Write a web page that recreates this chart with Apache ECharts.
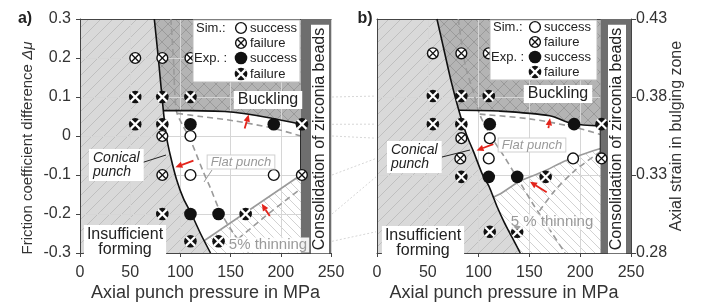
<!DOCTYPE html>
<html>
<head>
<meta charset="utf-8">
<script src="https://cdn.jsdelivr.net/npm/echarts@6/dist/echarts.min.js"></script>
<style>
html, body { margin: 0; padding: 0; background: #fff; }
#chart { width: 702px; height: 307px; }
</style>
</head>
<body>
<div id="chart"></div>
<script>
// ---------- data ----------
// panel a) : friction coefficient difference vs axial punch pressure
var simSuccessA = [[110, 0], [110, -0.1], [193, -0.1]];
var simFailureA = [[55, 0.2], [82, 0.2], [110, 0.2], [82, 0], [82, -0.1], [221, -0.1]];
var expSuccessA = [[110, 0.03], [193, 0.03], [110, -0.2], [138, -0.2]];
var expFailureA = [[55, 0.1], [82, 0.1], [110, 0.1], [55, 0.03], [82, 0.03], [221, 0.03],
                   [82, -0.2], [165, -0.2], [110, -0.27], [138, -0.27]];

var conicalA = [[74, 0.3], [78, 0.2], [83, 0.065], [86, 0], [90, -0.05], [96, -0.11],
                [103, -0.16], [111, -0.2], [120, -0.25], [130, -0.3]];
var buckleA = [[83, 0.065], [110, 0.065], [153, 0.061], [192, 0.045], [220, 0.03]];
var stripEdgeA = [[220, 0.03], [220, -0.1]];
var thinA = [[124, -0.268], [220, -0.1]];
var flatA = [[90.5, 0.3], [93, 0.2], [96, 0.065], [103, 0.024], [110, -0.01], [123, -0.093],
             [130, -0.134], [139, -0.19], [153, -0.25], [168, -0.3]];
var flatBuckleA = [[97, 0.058], [120, 0.05], [153, 0.039], [192, 0.02], [220, 0.0]];
var flatThinA = [[150, -0.28], [185, -0.205], [220, -0.135]];
var arrowsA = [[164, 0.019, 168, 0.055], [113, -0.063, 95, -0.08], [189, -0.205, 181, -0.174]];

// panel b) : axial strain in bulging zone vs axial punch pressure
var simSuccessB = [[111, 0.3536], [110, 0.3406], [193, 0.3406]];
var simFailureB = [[55, 0.408], [83, 0.408], [110, 0.408], [83, 0.3536], [82, 0.3406], [221, 0.3406]];
var expSuccessB = [[111, 0.3626], [194, 0.3626], [110, 0.3288], [138, 0.3288]];
var expFailureB = [[55, 0.3806], [83, 0.3806], [110, 0.3806], [55, 0.3626], [83, 0.3626], [221, 0.3626],
                   [83, 0.3288], [166, 0.3288], [111, 0.2936], [138, 0.2936]];

var conicalB = [[59, 0.43], [66, 0.41], [73, 0.39], [80.5, 0.3715], [88, 0.356], [95, 0.345],
                [104, 0.33], [110, 0.323], [114.5, 0.3158], [118, 0.31], [125, 0.3], [133, 0.29], [141, 0.28]];
var buckleB = [[80.5, 0.3715], [120, 0.371], [170, 0.368], [192, 0.363], [220, 0.3615]];
var stripEdgeB = [[220, 0.3615], [220, 0.3406]];
var thinB = [[114.5, 0.3158], [121, 0.3178], [140.7, 0.326], [163.7, 0.3322], [186.7, 0.3395], [220, 0.347]];
var flatB = [[80, 0.43], [87, 0.40], [95, 0.383], [101, 0.369], [112, 0.355], [125, 0.342],
             [140, 0.326], [152, 0.313], [162, 0.303], [172, 0.293], [185, 0.28]];
var flatBuckleB = [[101, 0.369], [150, 0.366], [192, 0.361], [220, 0.356]];
var flatThinB = [[160, 0.307], [175, 0.32], [195, 0.333], [220, 0.345]];
var arrowsB = [[168.7, 0.3601, 170.3, 0.3663], [114.5, 0.3498, 98, 0.3457], [167, 0.3189, 150.6, 0.3257]];

// matching rows of the two panels (friction difference -> axial strain)
var linkRows = [[0.1, 0.3806], [0.03, 0.3626], [0, 0.3536], [-0.1, 0.3406], [-0.2, 0.3288], [-0.27, 0.2936]];

// ---------- helpers ----------
var FONT = '"Liberation Sans", Arial, sans-serif';
var AXIS = '#444';

function hatch(bg, fg, size, dirs) {
  var c = document.createElement('canvas');
  c.width = size; c.height = size;
  var g = c.getContext('2d');
  g.fillStyle = bg; g.fillRect(0, 0, size, size);
  g.strokeStyle = fg; g.lineWidth = 1;
  g.beginPath();
  for (var k = -1; k <= 1; k++) {
    if (dirs.indexOf('/') >= 0) { g.moveTo(k * size, size); g.lineTo(k * size + size, 0); }
    if (dirs.indexOf('\\') >= 0) { g.moveTo(k * size, 0); g.lineTo(k * size + size, size); }
  }
  g.stroke();
  return { image: c, repeat: 'repeat' };
}

function axes(panel) {
  return panel === 'a' ? { xAxisIndex: 0, yAxisIndex: 0 } : { xAxisIndex: 1, yAxisIndex: 1 };
}

function area(panel, pts, fill, z) {
  return Object.assign({
    type: 'custom', silent: true, z: z || 1, clip: true, data: [pts[0]],
    renderItem: function (params, api) {
      return { type: 'polygon', shape: { points: pts.map(function (p) { return api.coord(p); }) },
               style: { fill: fill, stroke: null } };
    }
  }, axes(panel));
}

function curve(panel, pts, color, width, dashed, smooth) {
  return Object.assign({
    type: 'line', data: pts, symbol: 'none', silent: true, z: 6,
    smooth: smooth === undefined ? 0.3 : smooth,
    lineStyle: { color: color, width: width, type: dashed ? [6, 4] : 'solid' }
  }, axes(panel));
}

function markerGroup(kind, cx, cy, z) {
  var r = 6, ch = [];
  if (kind === 'simSuccess' || kind === 'simFailure') {
    ch.push({ type: 'circle', shape: { cx: cx, cy: cy, r: r - 0.6 }, style: { fill: '#fff', stroke: '#111', lineWidth: 1.4 } });
    if (kind === 'simFailure') {
      var k = 3.7;
      ch.push({ type: 'line', shape: { x1: cx - k, y1: cy - k, x2: cx + k, y2: cy + k }, style: { stroke: '#111', lineWidth: 1.3 } });
      ch.push({ type: 'line', shape: { x1: cx - k, y1: cy + k, x2: cx + k, y2: cy - k }, style: { stroke: '#111', lineWidth: 1.3 } });
    }
  } else {
    ch.push({ type: 'circle', shape: { cx: cx, cy: cy, r: r + 0.3 }, style: { fill: '#111' } });
    if (kind === 'expFailure') {
      var d = 4.6;
      ch.push({ type: 'line', shape: { x1: cx - d, y1: cy - d, x2: cx + d, y2: cy + d }, style: { stroke: '#fff', lineWidth: 2.2 } });
      ch.push({ type: 'line', shape: { x1: cx - d, y1: cy + d, x2: cx + d, y2: cy - d }, style: { stroke: '#fff', lineWidth: 2.2 } });
    }
  }
  if (z) ch.forEach(function (c) { c.z = z; });
  return { type: 'group', children: ch };
}

function markers(panel, pts, kind) {
  return Object.assign({
    type: 'custom', silent: true, z: 10, data: pts,
    renderItem: function (params, api) {
      var c = api.coord([api.value(0), api.value(1)]);
      return markerGroup(kind, c[0], c[1]);
    }
  }, axes(panel));
}

function arrows(panel, data) {
  return Object.assign({
    type: 'custom', silent: true, z: 9, data: data,
    renderItem: function (params, api) {
      var t = api.coord([api.value(0), api.value(1)]);
      var h = api.coord([api.value(2), api.value(3)]);
      var dx = h[0] - t[0], dy = h[1] - t[1], L = Math.sqrt(dx * dx + dy * dy);
      var ux = dx / L, uy = dy / L, hl = 7, hw = 3.2;
      var bx = h[0] - ux * hl, by = h[1] - uy * hl;
      return { type: 'group', children: [
        { type: 'line', shape: { x1: t[0], y1: t[1], x2: bx, y2: by }, style: { stroke: '#e3241b', lineWidth: 1.8 } },
        { type: 'polygon', shape: { points: [h, [bx - uy * hw, by + ux * hw], [bx + uy * hw, by - ux * hw]] },
          style: { fill: '#e3241b' } }
      ] };
    }
  }, axes(panel));
}

function strip(panel, y0, y1) {
  return area(panel, [[220, y0], [250, y0], [250, y1], [220, y1]], '#6e6e6e', 8);
}

// ---------- regions ----------
var grayHatch = hatch('#d9d9d9', '#bfbfbf', 12, '/');
var crossHatch = hatch('#b4b4b4', '#9a9a9a', 12, '/\\');
var thinHatch = hatch('#ffffff', '#d2d2d2', 9, '\\');

var leftA = [[0, 0.3]].concat(conicalA, [[0, -0.3]]);
var buckPolyA = [[74, 0.3], [220, 0.3]].concat(buckleA.slice().reverse(), [[78, 0.2]]);
var thinPolyA = thinA.concat([[220, -0.3], [130, -0.3]]);
var leftB = [[0, 0.43]].concat(conicalB, [[0, 0.28]]);
var buckPolyB = conicalB.slice(0, 4).concat(buckleB.slice(1), [[220, 0.43]]);
var thinPolyB = thinB.concat([[220, 0.28], [141, 0.28], [133, 0.29], [125, 0.3], [118, 0.31]]);

function xAxisCfg(grid) {
  return {
    gridIndex: grid, type: 'value', min: 0, max: 250, interval: 50, z: 3,
    axisLine: { show: true, onZero: false, lineStyle: { color: AXIS, width: 1 } },
    axisTick: { show: true, length: 4, lineStyle: { color: AXIS } },
    axisLabel: { fontSize: 16, color: '#333', fontFamily: FONT, margin: 12 },
    splitLine: { show: true, lineStyle: { color: '#d6d6d6', width: 1 } },
    name: 'Axial punch pressure in MPa', nameLocation: 'middle', nameGap: 31, nameMoveOverlap: false,
    nameTextStyle: { fontSize: 18, color: '#333', fontFamily: FONT, verticalAlign: 'top' }
  };
}
function frameX(grid) {
  return { gridIndex: grid, type: 'value', min: 0, max: 250, position: 'top', z: 3,
    axisLine: { show: true, onZero: false, lineStyle: { color: AXIS } },
    axisTick: { show: false }, axisLabel: { show: false }, splitLine: { show: false } };
}

var chart = echarts.init(document.getElementById('chart'));
chart.setOption({
  animation: false,
  grid: [
    { left: 80, top: 19, width: 251, height: 242 },
    { left: 377, top: 19, width: 254, height: 242 }
  ],
  xAxis: [xAxisCfg(0), xAxisCfg(1), frameX(0), frameX(1)],
  yAxis: [
    {
      gridIndex: 0, type: 'value', min: -0.3, max: 0.3, interval: 0.1, position: 'left', z: 3,
      axisLine: { show: true, onZero: false, lineStyle: { color: AXIS } },
      axisTick: { show: true, length: 4, lineStyle: { color: AXIS } },
      axisLabel: { fontSize: 16, color: '#333', fontFamily: FONT, margin: 9,
        formatter: function (v) { return Math.abs(v) < 1e-9 ? '0' : v.toFixed(1); } },
      splitLine: { show: true, lineStyle: { color: '#d6d6d6' } }
    },
    {
      gridIndex: 1, type: 'value', min: 0.28, max: 0.43, interval: 0.05, position: 'right', z: 3,
      axisLine: { show: true, onZero: false, lineStyle: { color: AXIS } },
      axisTick: { show: true, length: 5, lineStyle: { color: AXIS } },
      axisLabel: { fontSize: 16, color: '#333', fontFamily: FONT, margin: 5,
        formatter: function (v) { return v.toFixed(2); } },
      splitLine: { show: true, lineStyle: { color: '#d6d6d6' } },
      name: 'Axial strain in bulging zone', nameLocation: 'middle', nameGap: 38, nameMoveOverlap: false,
      nameTextStyle: { fontSize: 16, color: '#333', fontFamily: FONT }
    },
    {
      gridIndex: 1, type: 'value', min: 0.28, max: 0.43, position: 'left', z: 3,
      axisLine: { show: true, onZero: false, lineStyle: { color: AXIS } },
      axisTick: { show: false }, axisLabel: { show: false }, splitLine: { show: false }
    }
  ],
  series: [
    area('a', leftA, grayHatch), area('a', buckPolyA, crossHatch), area('a', thinPolyA, thinHatch),
    area('b', leftB, grayHatch), area('b', buckPolyB, crossHatch), area('b', thinPolyB, thinHatch),
    strip('a', -0.3, 0.3), strip('b', 0.28, 0.43),

    curve('a', flatA, '#9a9a9a', 1.6, true), curve('a', flatBuckleA, '#9a9a9a', 1.6, true),
    curve('a', flatThinA, '#9a9a9a', 1.6, true), curve('a', thinA, '#9a9a9a', 1.6, false, 0),
    curve('a', conicalA, '#111', 1.6, false), curve('a', buckleA, '#111', 1.6, false),
    curve('a', stripEdgeA, '#111', 1.6, false, 0),

    curve('b', flatB, '#9a9a9a', 1.6, true), curve('b', flatBuckleB, '#9a9a9a', 1.6, true),
    curve('b', flatThinB, '#9a9a9a', 1.6, true), curve('b', thinB, '#9a9a9a', 1.6, false),
    curve('b', conicalB, '#111', 1.6, false), curve('b', buckleB, '#111', 1.6, false),
    curve('b', stripEdgeB, '#111', 1.6, false, 0),

    arrows('a', arrowsA), arrows('b', arrowsB),

    markers('a', simSuccessA, 'simSuccess'), markers('a', simFailureA, 'simFailure'),
    markers('a', expSuccessA, 'expSuccess'), markers('a', expFailureA, 'expFailure'),
    markers('b', simSuccessB, 'simSuccess'), markers('b', simFailureB, 'simFailure'),
    markers('b', expSuccessB, 'expSuccess'), markers('b', expFailureB, 'expFailure')
  ]
});

// ---------- annotations ----------
function label(text, x, y, opt) {
  opt = opt || {};
  return {
    type: 'text', x: x, y: y, z: 100, rotation: opt.rotation || 0,
    style: {
      text: text, fill: opt.color || '#222',
      font: (opt.italic ? 'italic ' : '') + (opt.bold ? 'bold ' : '') + (opt.size || 16) + 'px ' + FONT,
      align: opt.align || 'center', verticalAlign: 'middle',
      textAlign: opt.align || 'center', textVerticalAlign: 'middle',
      lineHeight: opt.lineHeight, backgroundColor: opt.bg, padding: opt.padding,
      borderColor: opt.border, borderWidth: opt.border ? 1 : 0, rich: opt.rich
    }
  };
}
function legend(x0, y0, w, h, mx, rows) {
  var els = [{ type: 'rect', z: 100, shape: { x: x0, y: y0, width: w, height: h },
               style: { fill: '#fff', stroke: '#bbb', lineWidth: 1 } }];
  els.push(label('Sim.:', x0 + 3, rows[0], { align: 'left', size: 13 }));
  els.push(label('Exp. :', x0 + 1, rows[2], { align: 'left', size: 13 }));
  var kinds = ['simSuccess', 'simFailure', 'expSuccess', 'expFailure'];
  var words = ['success', 'failure', 'success', 'failure'];
  kinds.forEach(function (k, i) {
    els.push(markerGroup(k, mx, rows[i], 101));
    els.push(label(words[i], mx + 9, rows[i], { align: 'left', size: 13 }));
  });
  return els;
}
function line(x1, y1, x2, y2, color, dash) {
  return { type: 'line', z: 99, shape: { x1: x1, y1: y1, x2: x2, y2: y2 },
           style: { stroke: color, lineWidth: 1, lineDash: dash || null } };
}

var g = [];
linkRows.forEach(function (r) {
  var pa = chart.convertToPixel({ xAxisIndex: 0, yAxisIndex: 0 }, [250, r[0]]);
  var pb = chart.convertToPixel({ xAxisIndex: 1, yAxisIndex: 1 }, [0, r[1]]);
  g.push(line(pa[0] + 1, pa[1], pb[0] - 1, pb[1], '#d6d6d6', [2, 2]));
});
g.push(label('a)', 25, 19, { bold: true, size: 16 }));
g.push(label('b)', 365, 19, { bold: true, size: 16 }));
g.push(label('{t|Friction coefficient difference }{i|Δμ}', 28, 148, {
  rotation: Math.PI / 2, size: 15, color: '#333',
  rich: { t: { fontSize: 15, fontFamily: FONT, fill: '#333' },
          i: { fontSize: 15, fontFamily: FONT, fontStyle: 'italic', fill: '#333' } }
}));

g.push(label('Buckling', 268, 100, { bg: '#fff', padding: [1, 4] }));
g.push(label('Buckling', 558, 94, { bg: '#fff', padding: [1, 4] }));
g.push(line(141, 163, 166, 155, '#222'));
g.push(line(442, 157, 470, 150, '#222'));
g.push(label('Conical\npunch', 89, 165, { italic: true, size: 14, align: 'left', lineHeight: 14, bg: '#fff', padding: [2, 4] }));
g.push(label('Conical\npunch', 387, 157, { italic: true, size: 14, align: 'left', lineHeight: 14, bg: '#fff', padding: [2, 4] }));
g.push(line(212, 170, 204, 182, '#9a9a9a'));
g.push(label('Flat punch', 241, 162, { italic: true, size: 13, color: '#9a9a9a', bg: '#fff', padding: [0, 3], border: '#d0d0d0' }));
g.push(label('Flat punch', 532, 145, { italic: true, size: 13, color: '#9a9a9a', bg: '#fff', padding: [0, 3], border: '#d0d0d0' }));
g.push(label('Insufficient\nforming', 125, 242, { lineHeight: 15, bg: '#fff', padding: [2, 3] }));
g.push(label('Insufficient\nforming', 423, 243, { lineHeight: 15, bg: '#fff', padding: [2, 3] }));
g.push(label('5% thinning', 268, 245, { color: '#9a9a9a', size: 15, bg: 'rgba(255,255,255,0.9)', padding: [0, 2] }));
g.push(label('5 % thinning', 552, 222, { color: '#9a9a9a', size: 15, bg: 'rgba(255,255,255,0.6)', padding: [0, 2] }));
g.push(label('Consolidation of zirconia beads', 320, 139, { rotation: Math.PI / 2, bg: '#fff', padding: [1, 3] }));
g.push(label('Consolidation of zirconia beads', 617, 139, { rotation: Math.PI / 2, bg: '#fff', padding: [1, 3] }));

g = g.concat(legend(193, 20, 107, 62, 241, [28, 43, 58, 74]));
g = g.concat(legend(490, 20, 107, 60, 535, [27, 42, 57, 72]));

chart.setOption({ graphic: g });
</script>
</body>
</html>
